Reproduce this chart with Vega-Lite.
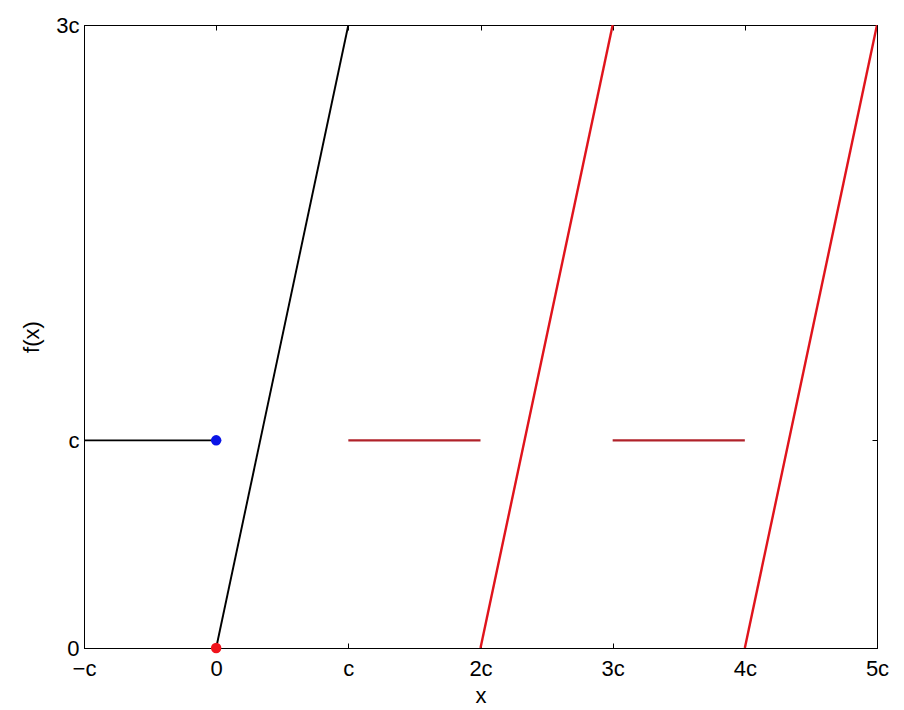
{
  "$schema": "https://vega.github.io/schema/vega-lite/v6.json",
  "autosize": {"type": "none"},
  "padding": {"left": 84, "top": 25, "right": 27, "bottom": 62},
  "width": 793,
  "height": 623,
  "background": "white",
  "config": {
    "view": {"stroke": "black", "strokeWidth": 1},
    "font": "Liberation Sans",
    "axis": {
      "grid": false,
      "domainColor": "black",
      "tickColor": "black",
      "labelColor": "black",
      "titleColor": "black",
      "labelFont": "Liberation Sans",
      "titleFont": "Liberation Sans",
      "labelFontSize": 22,
      "titleFontSize": 22,
      "titleFontWeight": "normal",
      "labelFlush": false,
      "labelOverlap": false,
      "tickSize": -5
    }
  },
  "resolve": {"axis": {"x": "independent", "y": "independent"}, "scale": {"color": "independent", "strokeWidth": "independent"}},
  "layer": [
    {
      "data": {"values": [
        {"seg": "a", "kind": "flatBlack", "x": -1, "y": 1},
        {"seg": "a", "kind": "flatBlack", "x": 0, "y": 1},
        {"seg": "b", "kind": "rampBlack", "x": 0, "y": 0},
        {"seg": "b", "kind": "rampBlack", "x": 1, "y": 3},
        {"seg": "c", "kind": "flatRed", "x": 1, "y": 1},
        {"seg": "c", "kind": "flatRed", "x": 2, "y": 1},
        {"seg": "d", "kind": "rampRed", "x": 2, "y": 0},
        {"seg": "d", "kind": "rampRed", "x": 3, "y": 3},
        {"seg": "e", "kind": "flatRed", "x": 3, "y": 1},
        {"seg": "e", "kind": "flatRed", "x": 4, "y": 1},
        {"seg": "f", "kind": "rampRed", "x": 4, "y": 0},
        {"seg": "f", "kind": "rampRed", "x": 5, "y": 3}
      ]},
      "mark": {"type": "line", "clip": true},
      "encoding": {
        "x": {"field": "x", "type": "quantitative",
              "scale": {"domain": [-1, 5], "nice": false, "zero": false},
              "axis": {"orient": "bottom", "values": [-1, 0, 1, 2, 3, 4, 5], "title": "x", "titlePadding": 6, "labelPadding": 15,
                       "labelExpr": "datum.value == 0 ? '0' : datum.value == 1 ? 'c' : datum.value == -1 ? '\u2212c' : datum.value + 'c'"}},
        "y": {"field": "y", "type": "quantitative",
              "scale": {"domain": [0, 3], "nice": false, "zero": false},
              "axis": {"orient": "left", "values": [0, 1, 3], "title": "f(x)", "titlePadding": 12, "labelPadding": 10,
                       "labelExpr": "datum.value == 0 ? '0' : datum.value == 1 ? 'c' : datum.value + 'c'"}},
        "detail": {"field": "seg"},
        "color": {"field": "kind", "type": "nominal",
                  "scale": {"domain": ["flatBlack", "rampBlack", "flatRed", "rampRed"], "range": ["black", "black", "#b0222a", "#e0141c"]},
                  "legend": null},
        "strokeWidth": {"field": "kind", "type": "nominal",
                  "scale": {"domain": ["flatBlack", "rampBlack", "flatRed", "rampRed"], "range": [1.7, 2.4, 1.7, 2.4]},
                  "legend": null}
      }
    },
    {
      "data": {"values": [
        {"pt": "blue", "x": 0, "y": 1},
        {"pt": "red", "x": 0, "y": 0}
      ]},
      "mark": {"type": "point", "filled": true, "opacity": 1, "size": 110, "shape": "circle"},
      "encoding": {
        "x": {"field": "x", "type": "quantitative",
              "scale": {"domain": [-1, 5], "nice": false, "zero": false},
              "axis": {"orient": "top", "values": [-1, 0, 1, 2, 3, 4, 5], "labels": false, "title": null, "domain": false}},
        "y": {"field": "y", "type": "quantitative",
              "scale": {"domain": [0, 3], "nice": false, "zero": false},
              "axis": {"orient": "right", "values": [0, 1, 3], "labels": false, "title": null, "domain": false}},
        "color": {"field": "pt", "type": "nominal",
                  "scale": {"domain": ["blue", "red"], "range": ["#0a14e6", "#f0141c"]},
                  "legend": null}
      }
    }
  ]
}
